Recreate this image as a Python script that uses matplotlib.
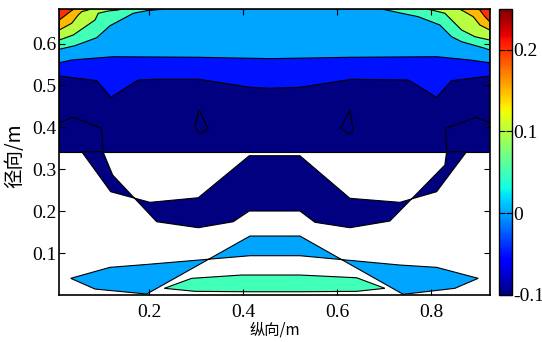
import matplotlib
matplotlib.use("Agg")
import matplotlib.pyplot as plt
from matplotlib import colors, cm

plt.rcParams["font.family"] = "serif"
plt.rcParams["font.serif"] = ["Liberation Serif", "DejaVu Serif"]

# contour level (lower bound) of each filled band, colour comes from jet over [-0.1, 0.25]
vmin, vmax = -0.1, 0.25

# upper region: level -0.1 block and the bands laid over it
navy_top_x = [0.0085, 0.9245, 0.9245, 0.0085]
navy_top_y = [0.3422, 0.3422, 0.6823, 0.6823]

blue_x = [0.0085, 0.0881, 0.1185, 0.1766, 0.2157, 0.3057, 0.4143, 0.4568, 0.5206,
          0.6306, 0.7511, 0.8115, 0.8434, 0.9245, 0.9245, 0.0085]
blue_y = [0.5226, 0.5114, 0.4719, 0.5131, 0.5148, 0.5148, 0.4957, 0.4933, 0.4957,
          0.5148, 0.5131, 0.4719, 0.5114, 0.5226, 0.6823, 0.6823]

lblue_x = [0.0085, 0.0349, 0.1234, 0.3079, 0.4568, 0.627, 0.8115, 0.8823, 0.9245, 0.9245, 0.0085]
lblue_y = [0.5543, 0.5608, 0.5686, 0.5672, 0.564, 0.5672, 0.5686, 0.5608, 0.5543, 0.6823, 0.6823]

aqua_l_x = [0.0085, 0.0419, 0.0881, 0.1164, 0.1234, 0.166, 0.1945, 0.2334, 0.0085]
aqua_l_y = [0.5863, 0.5949, 0.6139, 0.6425, 0.6466, 0.6721, 0.6783, 0.6823, 0.6823]
aqua_r_x = [0.695, 0.737, 0.7723, 0.8185, 0.8434, 0.8647, 0.9142, 0.9245, 0.9245]
aqua_r_y = [0.6823, 0.6721, 0.664, 0.6442, 0.6163, 0.6044, 0.5887, 0.5846, 0.6823]

yel_l_x = [0.0085, 0.0383, 0.0845, 0.0915, 0.1128, 0.1334, 0.14, 0.0085]
yel_l_y = [0.6084, 0.6204, 0.6561, 0.6721, 0.6776, 0.6799, 0.6823, 0.6823]
yel_r_x = [0.79, 0.8009, 0.8291, 0.8434, 0.8647, 0.893, 0.9245, 0.9245]
yel_r_y = [0.6823, 0.6799, 0.6721, 0.6561, 0.6323, 0.6163, 0.6084, 0.6823]

org_l_x = [0.0085, 0.0349, 0.0489, 0.0562, 0.0696, 0.075, 0.0085]
org_l_y = [0.6323, 0.6482, 0.668, 0.6759, 0.6799, 0.6823, 0.6823]
org_r_x = [0.86, 0.8681, 0.8894, 0.9036, 0.9245, 0.9245]
org_r_y = [0.6823, 0.6776, 0.664, 0.6442, 0.6323, 0.6823]

red_l_x = [0.0085, 0.0206, 0.0313, 0.04, 0.0085]
red_l_y = [0.6561, 0.6663, 0.6759, 0.6823, 0.6823]
red_r_x = [0.898, 0.9036, 0.9142, 0.9245, 0.9245]
red_r_y = [0.6823, 0.6799, 0.664, 0.652, 0.6823]

# closed -0.1 contours inside the navy block
tri_l_x = [0.3057, 0.2972, 0.3064, 0.3255]
tri_l_y = [0.4416, 0.4018, 0.3844, 0.3956]
tri_r_x = [0.627, 0.6072, 0.6255, 0.634]
tri_r_y = [0.4416, 0.398, 0.3844, 0.3916]
line_l_x = [0.0085, 0.0383, 0.0987, 0.1015]
line_l_y = [0.4113, 0.4242, 0.398, 0.3422]
line_r_x = [0.9245, 0.8966, 0.8306, 0.8328]
line_r_y = [0.4113, 0.4242, 0.398, 0.3422]

# the -0.1 "bowl" below the block
bowl_x = [0.0562, 0.1179, 0.2015, 0.3043, 0.4128, 0.5206, 0.627, 0.7334, 0.8115, 0.8753,
          0.8328, 0.8291, 0.7121, 0.627, 0.5526, 0.5206, 0.4128, 0.3787, 0.3043, 0.2157,
          0.1221, 0.1015]
bowl_y = [0.3422, 0.2469, 0.2216, 0.2326, 0.3327, 0.3327, 0.2312, 0.2216, 0.2469, 0.3422,
          0.3422, 0.3105, 0.1771, 0.1611, 0.174, 0.2009, 0.2009, 0.1754, 0.1611, 0.1754,
          0.2867, 0.3422]

# bottom bands
low_lb_x = [0.0328, 0.1164, 0.1979, 0.4143, 0.5206, 0.7334, 0.8115, 0.9, 0.8504, 0.7404,
            0.5206, 0.4143, 0.1945, 0.0845]
low_lb_y = [0.0405, 0.0667, 0.0739, 0.0944, 0.0944, 0.0722, 0.0667, 0.0405, 0.0167, 0.0024,
            0.1413, 0.1413, 0.0031, 0.015]
low_aq_x = [0.2319, 0.2902, 0.3966, 0.5206, 0.6413, 0.7015, 0.6413, 0.5206, 0.4143, 0.2972]
low_aq_y = [0.0167, 0.0405, 0.0484, 0.0484, 0.0419, 0.0167, 0.0095, 0.0085, 0.0085, 0.0095]

regions = [
    (-0.10, navy_top_x, navy_top_y),
    (-0.05, blue_x, blue_y),
    (0.00, lblue_x, lblue_y),
    (0.05, aqua_l_x, aqua_l_y), (0.05, aqua_r_x, aqua_r_y),
    (0.10, yel_l_x, yel_l_y), (0.10, yel_r_x, yel_r_y),
    (0.15, org_l_x, org_l_y), (0.15, org_r_x, org_r_y),
    (0.20, red_l_x, red_l_y), (0.20, red_r_x, red_r_y),
    (-0.10, tri_l_x, tri_l_y), (-0.10, tri_r_x, tri_r_y),
    (-0.10, bowl_x, bowl_y),
    (0.00, low_lb_x, low_lb_y),
    (0.05, low_aq_x, low_aq_y),
]

cmap = plt.get_cmap("jet")
norm = colors.Normalize(vmin, vmax)

fig = plt.figure(figsize=(5.42, 3.42), dpi=100)
ax = fig.add_axes([0.1094, 0.1383, 0.7941, 0.8354])
cax = fig.add_axes([0.9212, 0.1383, 0.0234, 0.8354])

for level, xs, ys in regions:
    ax.fill(xs, ys, facecolor=cmap(norm(level)), edgecolor="k", lw=0.8)
for xs, ys in [(line_l_x, line_l_y), (line_r_x, line_r_y)]:
    ax.plot(xs, ys, color="k", lw=0.8)

ax.set_xlim(0.0085, 0.9245)
ax.set_ylim(0.0015, 0.6823)
ax.set_xticks([0.2, 0.4, 0.6, 0.8])
ax.set_yticks([0.1, 0.2, 0.3, 0.4, 0.5, 0.6])
ax.tick_params(direction="in", top=True, right=True, length=4, width=0.8,
               labelsize=14, pad=2)
ax.tick_params(axis="x", pad=7)
for s in ax.spines.values():
    s.set_linewidth(1.2)

cjk = ["Noto Sans CJK SC", "DejaVu Sans"]
ax.set_xlabel("纵向/m", family=cjk, fontsize=11, labelpad=0)
ax.set_ylabel("径向/m", family=cjk, fontsize=14)
ax.yaxis.set_label_coords(-0.078, 0.485)

cb = fig.colorbar(cm.ScalarMappable(norm=norm, cmap=cmap), cax=cax)
cb.set_ticks([-0.1, 0, 0.1, 0.2])
cb.set_ticklabels(["-0.1", "0", "0.1", "0.2"])
cax.tick_params(direction="in", left=True, right=True, length=4, width=0.8,
                labelsize=14, pad=1)
cb.outline.set_linewidth(1.0)

fig.savefig("out.png", dpi=100)
